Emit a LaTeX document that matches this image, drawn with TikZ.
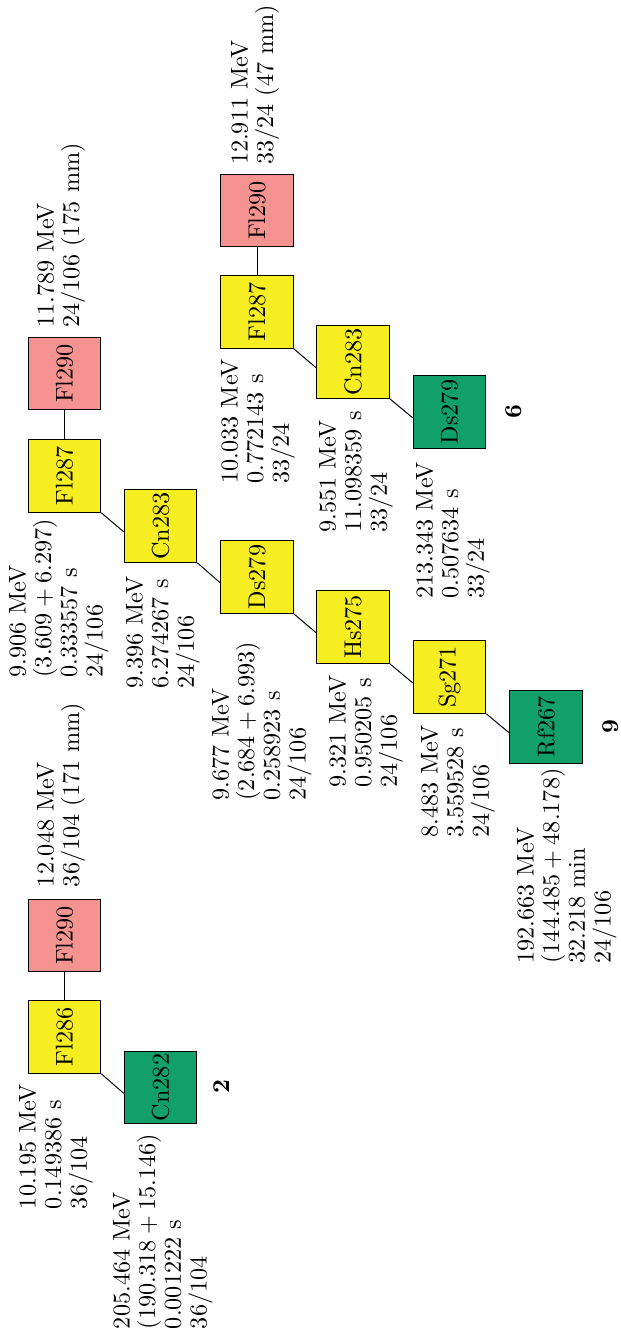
\documentclass[tikz,border=0pt]{standalone}
\usepackage{tikz}
\usepackage{amssymb,latexsym}
\definecolor{salmon}{RGB}{245,147,144}
\definecolor{lemon}{RGB}{246,238,32}
\definecolor{jade}{RGB}{18,160,106}

\begin{document}
\begin{tikzpicture}[rotate=90,transform shape,x=0.413pt,y=0.413pt,
  every node/.style={font=\fontsize{10}{10.6}\selectfont},
  box/.style={draw,minimum size=30pt,inner sep=0pt},
  heavy/.style={box,fill=salmon},
  decay/.style={box,fill=lemon},
  stable/.style={box,fill=jade},
  info/.style={anchor=north west,align=left,inner sep=0pt},
  tag/.style={font=\fontsize{10}{10.6}\selectfont\bfseries}]
  \useasboundingbox (0,0) rectangle (1337,-621);
  % chain 2
  \node[heavy] (Fl290a) at (401.5,-64.5) {Fl290};
  \node[decay] (Fl286a) at (300,-64.5) {Fl286};
  \node[stable] (Cn282a) at (249.5,-160.5) {Cn282};
  \path (Fl286a) edge (Fl290a);
  \path (Fl286a.south west) edge (Cn282a.99);
  \node[info] (e290a) at (449.5,-36.5) {12.048 MeV\\36/104 (171 mm)};
  \node[info] (e286a) at (127.5,-18.5) {10.195 MeV\\0.149386 s\\36/104};
  \node[info] (e282a) at (7.5,-112.5) {205.464 MeV\\$(190.318+15.146)$\\0.001222 s\\36/104};
  \node[tag] (n2) at (250,-222) {2};
  % chain 9
  \node[heavy] (Fl290b) at (963.5,-64.5) {Fl290};
  \node[decay] (Fl287b) at (861,-64.5) {Fl287};
  \node[decay] (Cn283b) at (811,-160.5) {Cn283};
  \node[decay] (Ds279b) at (760,-257) {Ds279};
  \node[decay] (Hs275b) at (710,-353) {Hs275};
  \node[decay] (Sg271b) at (660,-449.5) {Sg271};
  \node[stable] (Rf267b) at (610,-546) {Rf267};
  \path (Fl287b) edge (Fl290b);
  \path (Fl287b.south west) edge (Cn283b.99);
  \path (Cn283b.south west) edge (Ds279b.99);
  \path (Ds279b.south west) edge (Hs275b.99);
  \path (Hs275b.south west) edge (Sg271b.99);
  \path (Sg271b.south west) edge (Rf267b.99);
  \node[info] (e290b) at (1009,-36.5) {11.789 MeV\\24/106 (175 mm)};
  \node[info] (e287b) at (659,-8.5) {9.906 MeV\\$(3.609+6.297)$\\0.333557 s\\24/106};
  \node[info] (e283b) at (648,-125.5) {9.396 MeV\\6.274267 s\\24/106};
  \node[info] (e279b) at (536,-211.5) {9.677 MeV\\$(2.684+6.993)$\\0.258923 s\\24/106};
  \node[info] (e275b) at (549,-328.5) {9.321 MeV\\0.950205 s\\24/106};
  \node[info] (e271b) at (499,-420.5) {8.483 MeV\\3.559528 s\\24/106};
  \node[info] (e267b) at (373,-516.5) {192.663 MeV\\$(144.485+48.178)$\\32.218 min\\24/106};
  \node[tag] (n9) at (610,-610.5) {9};
  % chain 6
  \node[heavy] (Fl290c) at (1126.5,-257) {Fl290};
  \node[decay] (Fl287c) at (1025,-257) {Fl287};
  \node[decay] (Cn283c) at (975,-353) {Cn283};
  \node[stable] (Ds279c) at (925,-449.5) {Ds279};
  \path (Fl287c) edge (Fl290c);
  \path (Fl287c.south west) edge (Cn283c.99);
  \path (Cn283c.south west) edge (Ds279c.99);
  \node[info] (e290c) at (1171.5,-230.5) {12.911 MeV\\33/24 (47 mm)};
  \node[info] (e287c) at (853,-220.5) {10.033 MeV\\0.772143 s\\33/24};
  \node[info] (e283c) at (804,-318.5) {9.551 MeV\\11.098359 s\\33/24};
  \node[info] (e279c) at (738,-415.5) {213.343 MeV\\0.507634 s\\33/24};
  \node[tag] (n6) at (925,-514) {6};
\end{tikzpicture}
\end{document}
